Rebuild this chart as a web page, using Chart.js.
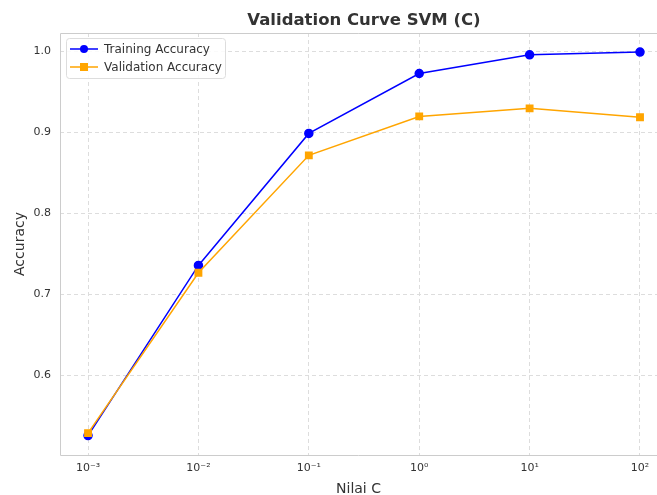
<!DOCTYPE html>
<html>
<head>
<meta charset="utf-8">
<script src="https://cdn.jsdelivr.net/npm/chart.js@4.4.0/dist/chart.umd.min.js"></script>
<style>
  body { margin: 0; background: #fff; }
  #wrap { width: 657px; height: 495px; }
</style>
</head>
<body>
<div id="wrap"><canvas id="curve"></canvas></div>
<script>
// values of C and the scores
const cValues = [0.001, 0.01, 0.1, 1, 10, 100]
const trainAcc = [0.526, 0.736, 0.899, 0.973, 0.996, 0.9995]
const valAcc = [0.529, 0.727, 0.872, 0.920, 0.930, 0.919]
const xTicks = [0.001, 0.01, 0.1, 1, 10, 100]
const yTicks = [0.6, 0.7, 0.8, 0.9, 1.0]

const sup = { '-': '\u207B', '0': '\u2070', '1': '\u00B9', '2': '\u00B2', '3': '\u00B3' }
function powLabel(v) {
  let e = Math.round(Math.log10(v))
  return '10' + String(e).split('').map(c => sup[c]).join('')
}

const FONT = "'DejaVu Sans', sans-serif"

// title, spines and legend drawn by hand, matplotlib style
const decor = {
  id: 'decor',
  afterDraw(chart) {
    const ctx = chart.ctx
    const a = chart.chartArea
    ctx.save()
    ctx.strokeStyle = '#cccccc'
    ctx.lineWidth = 1
    ctx.beginPath()
    ctx.moveTo(chart.width, a.top + 0.5)
    ctx.lineTo(a.left + 0.5, a.top + 0.5)
    ctx.lineTo(a.left + 0.5, a.bottom + 0.5)
    ctx.lineTo(chart.width, a.bottom + 0.5)
    ctx.stroke()

    ctx.fillStyle = '#333333'
    ctx.font = 'bold 16.5px ' + FONT
    ctx.textAlign = 'center'
    ctx.textBaseline = 'middle'
    ctx.fillText('Validation Curve SVM (C)', 364, 21)

    // legend box
    let bx = a.left + 6, by = a.top + 5, bw = 159, bh = 40
    ctx.fillStyle = 'rgba(255,255,255,0.85)'
    ctx.strokeStyle = '#dddddd'
    ctx.beginPath()
    ctx.roundRect(bx + 0.5, by + 0.5, bw, bh, 3)
    ctx.fill()
    ctx.stroke()
    const items = chart.data.datasets
    items.forEach((ds, i) => {
      let y = by + 11 + i * 18
      ctx.strokeStyle = ds.borderColor
      ctx.lineWidth = 1.5
      ctx.beginPath()
      ctx.moveTo(bx + 4, y)
      ctx.lineTo(bx + 32, y)
      ctx.stroke()
      ctx.fillStyle = ds.borderColor
      if (ds.pointStyle === 'rect') {
        ctx.fillRect(bx + 18 - 4, y - 4, 8, 8)
      } else {
        ctx.beginPath()
        ctx.arc(bx + 18, y, 4, 0, Math.PI * 2)
        ctx.fill()
      }
      ctx.fillStyle = '#333333'
      ctx.font = '12px ' + FONT
      ctx.textAlign = 'left'
      ctx.fillText(ds.label, bx + 38, y + 0.5)
    })
    ctx.restore()
  }
}

new Chart(document.getElementById('curve'), {
  type: 'line',
  data: {
    datasets: [{
      label: 'Training Accuracy',
      data: cValues.map((c, i) => ({ x: c, y: trainAcc[i] })),
      borderColor: '#0000ff',
      backgroundColor: '#0000ff',
      borderWidth: 1.5,
      pointStyle: 'circle',
      pointRadius: 4,
      pointHoverRadius: 4,
      order: 1
    }, {
      label: 'Validation Accuracy',
      data: cValues.map((c, i) => ({ x: c, y: valAcc[i] })),
      borderColor: '#ffa500',
      backgroundColor: '#ffa500',
      borderWidth: 1.5,
      pointStyle: 'rect',
      pointRadius: 4.5,
      pointHoverRadius: 4.5,
      order: 0
    }]
  },
  options: {
    responsive: true,
    maintainAspectRatio: false,
    animation: false,
    layout: { autoPadding: false, padding: { top: 33, right: 0, left: 0, bottom: 0 } },
    plugins: {
      legend: { display: false },
      tooltip: { enabled: false }
    },
    scales: {
      x: {
        type: 'logarithmic',
        min: Math.pow(10, -3.254),
        max: Math.pow(10, 2.154),
        afterBuildTicks: s => { s.ticks = xTicks.map(v => ({ value: v })) },
        afterFit: s => { s.height = 40; s.paddingRight = 0; s.paddingLeft = 0 },
        border: { display: false, dash: [4, 3] },
        grid: { color: '#dddddd', tickLength: 0, drawTicks: false },
        ticks: {
          color: '#333333', font: { family: FONT, size: 11 }, padding: 7,
          maxRotation: 0, autoSkip: false,
          callback: v => powLabel(v)
        },
        title: {
          display: true, text: 'Nilai C', color: '#333333',
          font: { family: FONT, size: 14 }, padding: { top: 2, bottom: -3 }
        }
      },
      y: {
        min: 0.502,
        max: 1.023,
        afterBuildTicks: s => { s.ticks = yTicks.map(v => ({ value: v })) },
        afterFit: s => { s.width = 60 },
        border: { display: false, dash: [4, 3] },
        grid: { color: '#dddddd', drawTicks: false },
        ticks: {
          color: '#333333', font: { family: FONT, size: 11 }, padding: 9,
          callback: v => v.toFixed(1)
        },
        title: {
          display: true, text: 'Accuracy', color: '#333333',
          font: { family: FONT, size: 14 }, padding: { top: 12, bottom: 4 }
        }
      }
    }
  },
  plugins: [decor]
})
</script>
</body>
</html>
